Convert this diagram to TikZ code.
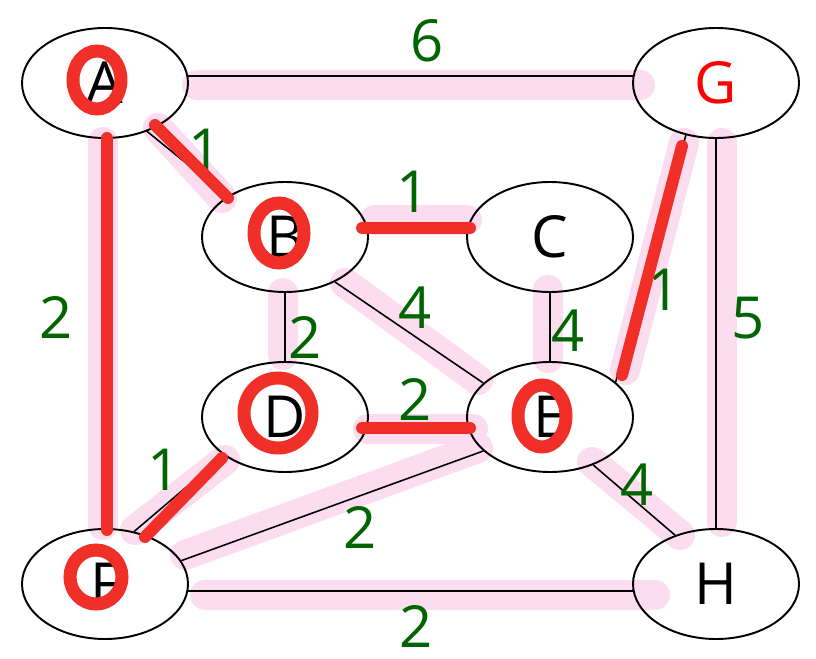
\documentclass[tikz,border=0pt]{standalone}
\usepackage{fontspec}
\setmainfont{Open Sans}
\usepackage{xcolor}
\usetikzlibrary{shapes.geometric}
\definecolor{hlpink}{RGB}{252,221,240}
\definecolor{penred}{RGB}{240,48,40}
\definecolor{wgreen}{RGB}{0,100,0}

\begin{document}
\begin{tikzpicture}[
  vertex/.style={draw, ellipse, line width=1.1pt, minimum width=3.32cm, minimum height=2.2cm, inner sep=0pt, font=\fontsize{33}{33}\selectfont},
  weight/.style={text=wgreen, inner sep=0pt, font=\fontsize{33}{33}\selectfont},
  edge/.style={line width=0.9pt},
  hl/.style={hlpink, line width=0.6cm, line cap=round},
  pick/.style={penred, line width=0.24cm, line cap=round},
  ring/.style={penred, line width=0.26cm}
]
\useasboundingbox (0,0) rectangle (16.32,13.16);
% highlighter
\draw[hl] (3.94,11.46) -- (12.80,11.46);
\draw[hl] (2.06,10.32) -- (2.06,2.66);
\draw[hl] (3.16,10.60) -- (4.44,9.20);
\draw[hl] (7.50,8.76) -- (9.34,8.76);
\draw[hl] (5.66,7.30) -- (5.66,6.06);
\draw[hl] (6.90,7.50) -- (9.56,5.56);
\draw[hl] (10.96,7.36) -- (10.96,6.00);
\draw[hl] (13.68,10.30) -- (12.50,5.76);
\draw[hl] (14.44,10.30) -- (14.44,2.72);
\draw[hl] (7.36,4.58) -- (9.46,4.58);
\draw[hl] (4.50,3.96) -- (2.70,2.56);
\draw[hl] (3.70,2.06) -- (9.56,4.20);
\draw[hl] (4.10,1.26) -- (13.10,1.26);
\draw[hl] (11.84,3.92) -- (13.60,2.46);
% vertices
\node[vertex] (A) at (2.10,11.50) {A};
\node[vertex, text=red] (G) at (14.32,11.50) {G};
\node[vertex] (B) at (5.70,8.42) {B};
\node[vertex] (C) at (11.00,8.42) {C};
\node[vertex] (D) at (5.70,4.82) {D};
\node[vertex] (E) at (11.00,4.82) {E};
\node[vertex] (F) at (2.10,1.48) {F};
\node[vertex] (H) at (14.32,1.48) {H};
% edges
\draw[edge] (A.5) -- (G.175);
\draw[edge] (A) -- (F);
\draw[edge] (A.311) -- (B.145);
\draw[edge] (B.8) -- (C.172);
\draw[edge] (B) -- (D);
\draw[edge] (B.318) -- (E.153);
\draw[edge] (C) -- (E);
\draw[edge] (G.240) -- (E.28);
\draw[edge] (G) -- (H);
\draw[edge] (D.352) -- (E.188);
\draw[edge] (D.212) -- (F.61);
\draw[edge] (F.17) -- (E.207);
\draw[edge] (F.355) -- (H.185);
\draw[edge] (E.312) -- (H.130);
% weights
\node[weight] (wAG) at (8.54,12.34) {6};
\node[weight] (wAF) at (1.12,6.80) {2};
\node[weight] (wAB) at (4.10,10.16) {1};
\node[weight] (wBC) at (8.26,9.32) {1};
\node[weight] (wBD) at (6.10,6.40) {2};
\node[weight] (wBE) at (8.30,7.00) {4};
\node[weight] (wCE) at (11.36,6.54) {4};
\node[weight] (wGE) at (13.28,7.36) {1};
\node[weight] (wGH) at (14.96,6.80) {5};
\node[weight] (wDE) at (8.30,5.16) {2};
\node[weight] (wDF) at (3.28,3.76) {1};
\node[weight] (wFE) at (7.20,2.62) {2};
\node[weight] (wEH) at (12.74,3.46) {4};
\node[weight] (wFH) at (8.32,0.64) {2};
% chosen edges
\draw[pick] (2.14,10.40) -- (2.14,2.56);
\draw[pick] (3.10,10.66) -- (4.56,9.20);
\draw[pick] (7.24,8.60) -- (9.40,8.60);
\draw[pick] (13.64,10.24) -- (12.44,5.66);
\draw[pick] (7.24,4.60) -- (9.40,4.60);
\draw[pick] (4.44,4.00) -- (2.90,2.42);
% circled vertices
\draw[ring] (1.94,11.56) ellipse (0.48 and 0.58);
\draw[ring] (5.58,8.50) ellipse (0.50 and 0.60);
\draw[ring] (5.56,4.90) ellipse (0.68 and 0.70);
\draw[ring] (10.84,4.84) ellipse (0.48 and 0.62);
\draw[ring] (1.92,1.62) ellipse (0.52 and 0.54);
\end{tikzpicture}
\end{document}
